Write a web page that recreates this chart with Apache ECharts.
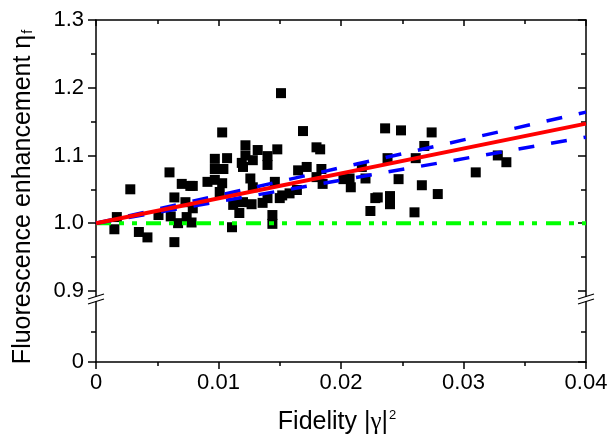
<!DOCTYPE html>
<html>
<head>
<meta charset="utf-8">
<script src="https://cdn.jsdelivr.net/npm/echarts@6/dist/echarts.min.js"></script>
<style>
  html, body { margin: 0; padding: 0; background: #fff; }
  #chart { width: 614px; height: 441px; }
</style>
</head>
<body>
<div id="chart"></div>
<script>
// measured points (fidelity, enhancement)
const points = [
  [0.0017, 1.009], [0.0015, 0.991], [0.0028, 1.050], [0.0035, 0.987], [0.0042, 0.979],
  [0.0051, 1.012], [0.0060, 1.075], [0.0061, 1.010], [0.0064, 1.038], [0.0064, 0.972],
  [0.0067, 1.000], [0.0070, 1.058], [0.0073, 1.031], [0.0074, 1.009], [0.0077, 1.055],
  [0.0079, 1.055], [0.0079, 1.022], [0.0078, 1.001], [0.0091, 1.061], [0.0097, 1.095],
  [0.0097, 1.080], [0.0097, 1.064], [0.0103, 1.134], [0.0151, 1.192], [0.0169, 1.136],
  [0.0122, 1.115], [0.0132, 1.108], [0.0148, 1.109], [0.0180, 1.112], [0.0183, 1.109],
  [0.0107, 1.096], [0.0122, 1.100], [0.0128, 1.093], [0.0140, 1.099], [0.0119, 1.089],
  [0.0140, 1.086], [0.0104, 1.080], [0.0120, 1.083], [0.0103, 1.059], [0.0101, 1.046],
  [0.0126, 1.066], [0.0128, 1.053], [0.0146, 1.061], [0.0165, 1.078], [0.0172, 1.083],
  [0.0184, 1.080], [0.0180, 1.068], [0.0185, 1.058], [0.0112, 1.027], [0.0120, 1.031],
  [0.0127, 1.028], [0.0136, 1.030], [0.0152, 1.041], [0.0158, 1.044], [0.0164, 1.049],
  [0.0117, 1.015], [0.0111, 0.994], [0.0144, 1.012], [0.0144, 0.999], [0.0150, 1.037],
  [0.0140, 1.037], [0.0236, 1.140], [0.0249, 1.137], [0.0274, 1.134], [0.0268, 1.114],
  [0.0238, 1.096], [0.0261, 1.096], [0.0217, 1.083], [0.0207, 1.066], [0.0202, 1.065],
  [0.0220, 1.066], [0.0208, 1.053], [0.0247, 1.065], [0.0266, 1.056], [0.0279, 1.043],
  [0.0230, 1.038], [0.0240, 1.040], [0.0228, 1.037], [0.0240, 1.028], [0.0224, 1.018],
  [0.0260, 1.016], [0.0310, 1.075], [0.0328, 1.100], [0.0335, 1.090]
];
const fitLine = [[0, 1.0], [0.04, 1.147]];
const upperBound = [[0, 1.0], [0.04, 1.164]];
const lowerBound = [[0, 1.0], [0.04, 1.127]];
const baseline = [[0, 1.0], [0.04, 1.0]];

// y axis is broken between 0 and 0.9: the bottom of the axis stands for 0
const yBottom = 0.795;
const yMajor = [yBottom, 0.9, 1.0, 1.1, 1.2, 1.3];
const yMinor = [0.84, 0.95, 1.05, 1.15, 1.25];

const font = 'Liberation Sans, Arial, sans-serif';
const black = '#000';

const chart = echarts.init(document.getElementById('chart'));

function yLabel(v) {
  return v < 0.85 ? '0' : v.toFixed(1);
}

function yAx(pos, ticks, len, inside, showLine, extra) {
  return Object.assign({
    type: 'value',
    position: pos,
    min: yBottom,
    max: 1.3,
    axisLine: { show: showLine, lineStyle: { color: black, width: 1.5 } },
    axisTick: { show: true, inside: inside, length: len, customValues: ticks, lineStyle: { color: black, width: 1.5 } },
    axisLabel: { show: false },
    splitLine: { show: false },
  }, extra || {});
}

const option = {
  animation: false,
  grid: { left: 96, right: 28, top: 20, bottom: 79 },
  xAxis: [
    {
      type: 'value',
      position: 'bottom',
      min: 0,
      max: 0.04,
      interval: 0.01,
      axisLine: { lineStyle: { color: black, width: 1.5 } },
      axisTick: { length: 7, lineStyle: { color: black, width: 1.5 } },
      minorTick: { show: true, splitNumber: 2, length: 4, lineStyle: { color: black, width: 1.5 } },
      splitLine: { show: false },
      axisLabel: { fontSize: 22, color: black, fontFamily: font, margin: 10 },
      name: '{a|Fidelity |}{g|γ}{a||}{s|2}',
      nameLocation: 'middle',
      nameGap: 47,
      nameTextStyle: {
        padding: [0, 8, 0, 0],
        rich: {
          a: { fontSize: 25, color: black, fontFamily: font },
          g: { fontSize: 25, color: black, fontFamily: 'Liberation Serif, serif' },
          s: { fontSize: 13, color: black, fontFamily: font, padding: [0, 0, 14, 1] },
        },
      },
    },
    {
      type: 'value',
      position: 'top',
      min: 0,
      max: 0.04,
      interval: 0.01,
      axisLine: { lineStyle: { color: black, width: 1.5 } },
      axisTick: { inside: true, length: 6, lineStyle: { color: black, width: 1.5 } },
      minorTick: { show: true, splitNumber: 2, length: 4, lineStyle: { color: black, width: 1.5 } },
      splitLine: { show: false },
      axisLabel: { show: false },
    },
  ],
  yAxis: [
    yAx('left', yMajor, 8, false, true, {
      axisLabel: {
        show: true, customValues: yMajor, formatter: yLabel,
        fontSize: 22, color: black, fontFamily: font, margin: 12,
      },
      name: '{a|Fluorescence enhancement η}{s|f}',
      nameLocation: 'middle',
      nameRotate: 90,
      nameGap: 60,
      nameTextStyle: {
        padding: [0, 12, 0, 0],
        rich: {
          a: { fontSize: 25, color: black, fontFamily: font },
          s: { fontSize: 14, color: black, fontFamily: font, padding: [10, 0, 0, 1] },
        },
      },
    }),
    yAx('left', yMinor, 5, false, false),
    yAx('right', yMajor, 8, true, true),
    yAx('right', yMinor, 5, true, false),
  ],
  series: [
    {
      name: 'data',
      type: 'scatter',
      data: points,
      symbol: 'rect',
      symbolSize: 10,
      itemStyle: { color: '#000', opacity: 1 },
      z: 2,
    },
    {
      name: 'baseline',
      type: 'line',
      data: baseline,
      showSymbol: false,
      lineStyle: { color: '#00ff00', width: 4, type: [15, 8, 5, 8, 5, 9] },
      z: 3,
    },
    {
      name: 'upper',
      type: 'line',
      data: upperBound,
      showSymbol: false,
      lineStyle: { color: '#0000ff', width: 3.5, type: [16, 17] },
      z: 4,
    },
    {
      name: 'lower',
      type: 'line',
      data: lowerBound,
      showSymbol: false,
      lineStyle: { color: '#0000ff', width: 3.5, type: [16, 17] },
      z: 4,
    },
    {
      name: 'fit',
      type: 'line',
      data: fitLine,
      showSymbol: false,
      lineStyle: { color: '#ff0000', width: 4 },
      z: 5,
    },
  ],
};

chart.setOption(option);

// axis break marks "//" just below 0.9 on both vertical axes
function breakMarks() {
  const els = [];
  [0, 0.04].forEach((xv) => {
    const p = chart.convertToPixel({ xAxisIndex: 0, yAxisIndex: 0 }, [xv, 0.888]);
    const cx = Math.round(p[0]);
    const cy = Math.round(p[1]);
    els.push({ type: 'rect', shape: { x: cx - 2, y: cy - 2, width: 4, height: 4 }, style: { fill: '#fff' }, z: 100 });
    [-2.5, 2.5].forEach((d) => {
      els.push({
        type: 'line',
        shape: { x1: cx - 8, y1: cy + d + 2.5, x2: cx + 8, y2: cy + d - 2.5 },
        style: { stroke: black, lineWidth: 1.3 },
        z: 101,
      });
    });
  });
  chart.setOption({ graphic: els });
}
breakMarks();

window.addEventListener('resize', () => {
  chart.resize();
  breakMarks();
});
</script>
</body>
</html>
